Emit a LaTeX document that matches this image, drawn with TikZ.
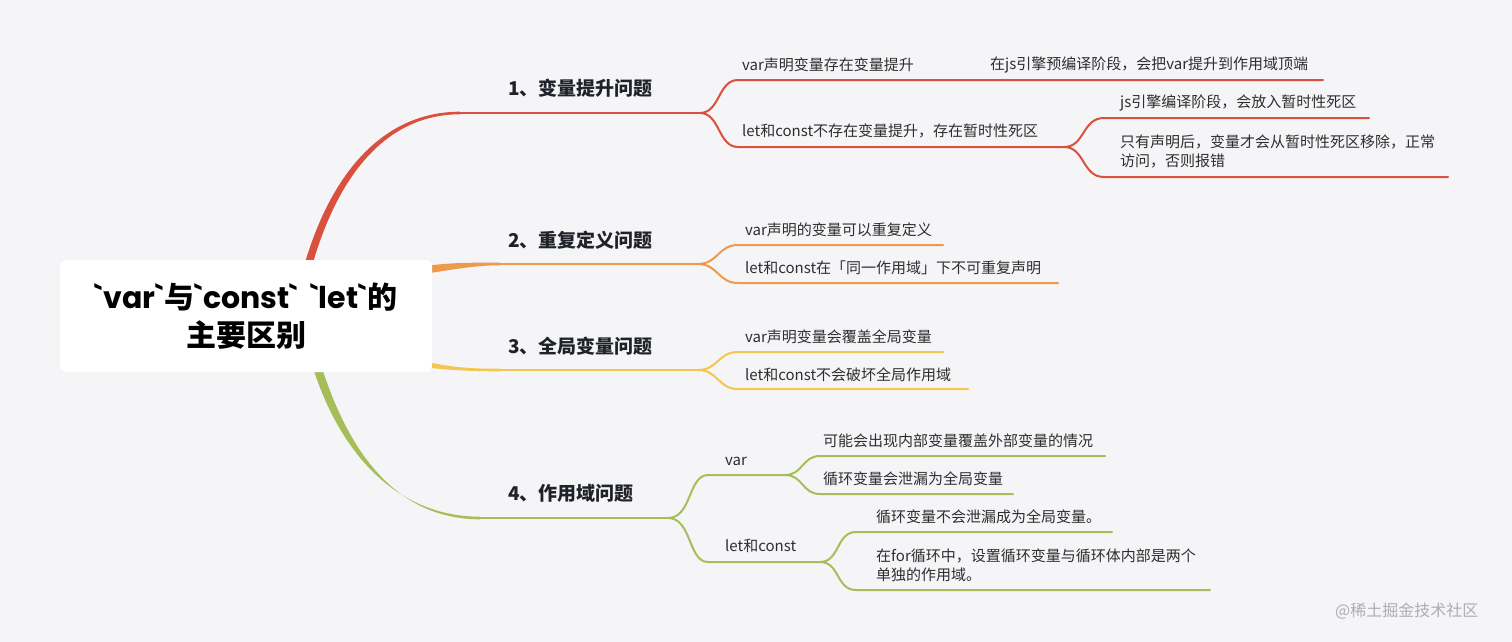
\documentclass[tikz,border=0pt]{standalone}
\usepackage{fontspec}
\setmainfont{Noto Sans CJK SC}
\newfontfamily\rootlatin{Poppins}
\definecolor{bgc}{HTML}{F5F5F8}
\definecolor{redc}{HTML}{D9503F}
\definecolor{orac}{HTML}{EE9A4C}
\definecolor{yelc}{HTML}{F3C74F}
\definecolor{grnc}{HTML}{A6BE59}
\definecolor{titc}{HTML}{1F2329}
\definecolor{leafc}{HTML}{2E2E2E}
\definecolor{wmc}{HTML}{ADADB2}
\newcommand{\bq}{\textasciigrave}
\tikzset{
  leaf/.style={font=\fontsize{15}{19.5}\selectfont, text=leafc, anchor=west, inner sep=0pt, align=left},
  topic/.style={font=\bfseries\fontsize{19}{24}\selectfont, text=titc, anchor=west, inner sep=0pt},
  rootbox/.style={fill=white, rounded corners=6pt, minimum width=372pt, minimum height=112pt, inner sep=0pt,
     font=\bfseries\fontsize{30}{38}\selectfont, text=black, align=center},
  sub/.style={line width=2pt, line cap=round},
  mainline/.style={line width=2.6pt, line cap=round}
}
\begin{document}
\begin{tikzpicture}[x=1pt,y=-1pt]
\useasboundingbox (0,0) rectangle (1512,642);
\fill[bgc] (0,0) rectangle (1512,642);

% ---------- coordinates ----------
\coordinate (R0) at (460,113);  \coordinate (R1) at (700,113);
\coordinate (O0) at (500,264);  \coordinate (O1) at (698,264);
\coordinate (Y0) at (500,370);  \coordinate (Y1) at (698,370);
\coordinate (G0) at (480,518);  \coordinate (G1) at (668,518);

% ---------- main tapered branches ----------
\fill[redc] (304,266) .. controls (333,166) and (388,111.7) .. (460,111.7)
  -- (460,114.3) .. controls (391,114.3) and (340,168) .. (312,266) -- cycle;
\fill[orac] (410,268) .. controls (450,262) and (470,262.7) .. (500,262.7)
  -- (500,265.3) .. controls (472,265.3) and (452,270) .. (410,276) -- cycle;
\fill[yelc] (410,358) .. controls (450,368) and (470,368.7) .. (500,368.7)
  -- (500,371.3) .. controls (468,371.3) and (448,370) .. (410,366) -- cycle;
\fill[grnc] (313,368) .. controls (342,458) and (400,516.7) .. (480,516.7)
  -- (480,519.3) .. controls (398,519.3) and (350,455) .. (322,368) -- cycle;

\draw[mainline, redc] (R0) -- (R1);
\draw[mainline, orac] (O0) -- (O1);
\draw[mainline, yelc] (Y0) -- (Y1);
\draw[mainline, grnc] (G0) -- (G1);

% ---------- root ----------
\node[rootbox] (root) at (246,316) {{\rootlatin\bq var\bq}与{\rootlatin\bq const\bq\hspace{0.4em}\bq let\bq}的\\主要区别};

% ---------- topics ----------
\node[topic] (t1) at (508,88) {1、变量提升问题};
\node[topic] (t2) at (508,240) {2、重复定义问题};
\node[topic] (t3) at (508,346) {3、全局变量问题};
\node[topic] (t4) at (508,493) {4、作用域问题};

% ---------- branch 1 (red) ----------
\coordinate (a1s) at (738,80);   \coordinate (a1e) at (925,80);
\coordinate (a1ce) at (1323,80);
\coordinate (a2s) at (738,147);  \coordinate (a2e) at (1064,147);
\coordinate (a21s) at (1104,118); \coordinate (a21e) at (1369,118);
\coordinate (a22s) at (1104,177); \coordinate (a22e) at (1448,177);
\node[leaf] (a1) at (742,65) {var声明变量存在变量提升};
\node[leaf] (a1c) at (990,65) {在js引擎预编译阶段，会把var提升到作用域顶端};
\node[leaf] (a2) at (742,131) {let和const不存在变量提升，存在暂时性死区};
\node[leaf] (a21) at (1120,103) {js引擎编译阶段，会放入暂时性死区};
\node[leaf] (a22) at (1120,151.5) {只有声明后，变量才会从暂时性死区移除，正常\\访问，否则报错};
\draw[sub, redc] (R1) .. controls (720,113) and (718,80) .. (a1s) -- (a1e) -- (a1ce);
\draw[sub, redc] (R1) .. controls (720,113) and (718,147) .. (a2s) -- (a2e);
\draw[sub, redc] (a2e) .. controls (1085,147) and (1082,118) .. (a21s) -- (a21e);
\draw[sub, redc] (a2e) .. controls (1085,147) and (1082,177) .. (a22s) -- (a22e);

% ---------- branch 2 (orange) ----------
\coordinate (b1s) at (738,245); \coordinate (b1e) at (943,245);
\coordinate (b2s) at (738,283); \coordinate (b2e) at (1058,283);
\node[leaf] (b1) at (745,230) {var声明的变量可以重复定义};
\node[leaf] (b2) at (745,268) {let和const在「同一作用域」下不可重复声明};
\draw[sub, orac] (O1) .. controls (718,264) and (718,245) .. (b1s) -- (b1e);
\draw[sub, orac] (O1) .. controls (718,264) and (718,283) .. (b2s) -- (b2e);

% ---------- branch 3 (yellow) ----------
\coordinate (c1s) at (738,352); \coordinate (c1e) at (943,352);
\coordinate (c2s) at (738,389); \coordinate (c2e) at (968,389);
\node[leaf] (c1) at (745,337) {var声明变量会覆盖全局变量};
\node[leaf] (c2) at (745,375) {let和const不会破坏全局作用域};
\draw[sub, yelc] (Y1) .. controls (718,370) and (718,352) .. (c1s) -- (c1e);
\draw[sub, yelc] (Y1) .. controls (718,370) and (718,389) .. (c2s) -- (c2e);

% ---------- branch 4 (green) ----------
\coordinate (d1s) at (708,475); \coordinate (d1e) at (785,475);
\coordinate (d2s) at (708,562); \coordinate (d2e) at (820,562);
\coordinate (d11s) at (820,456); \coordinate (d11e) at (1105,456);
\coordinate (d12s) at (820,494); \coordinate (d12e) at (1013,494);
\coordinate (d21s) at (856,532); \coordinate (d21e) at (1112,532);
\coordinate (d22s) at (856,590); \coordinate (d22e) at (1210,590);
\node[leaf, anchor=base west] (d1) at (725,465) {var};
\node[leaf] (d2) at (725,546) {let和const};
\node[leaf] (d11) at (823,441) {可能会出现内部变量覆盖外部变量的情况};
\node[leaf] (d12) at (823,479) {循环变量会泄漏为全局变量};
\node[leaf] (d21) at (876,517) {循环变量不会泄漏成为全局变量。};
\node[leaf] (d22) at (876,565.5) {在for循环中，设置循环变量与循环体内部是两个\\单独的作用域。};
\draw[sub, grnc] (G1) .. controls (692,518) and (688,475) .. (d1s) -- (d1e);
\draw[sub, grnc] (G1) .. controls (692,518) and (688,562) .. (d2s) -- (d2e);
\draw[sub, grnc] (d1e) .. controls (803,475) and (802,456) .. (d11s) -- (d11e);
\draw[sub, grnc] (d1e) .. controls (803,475) and (802,494) .. (d12s) -- (d12e);
\draw[sub, grnc] (d2e) .. controls (840,562) and (836,532) .. (d21s) -- (d21e);
\draw[sub, grnc] (d2e) .. controls (840,562) and (836,590) .. (d22s) -- (d22e);

% ---------- watermark ----------
\node[anchor=west, inner sep=0pt, text=wmc, font=\fontsize{16}{20}\selectfont] (wm) at (1335,611) {@稀土掘金技术社区};
\end{tikzpicture}
\end{document}
